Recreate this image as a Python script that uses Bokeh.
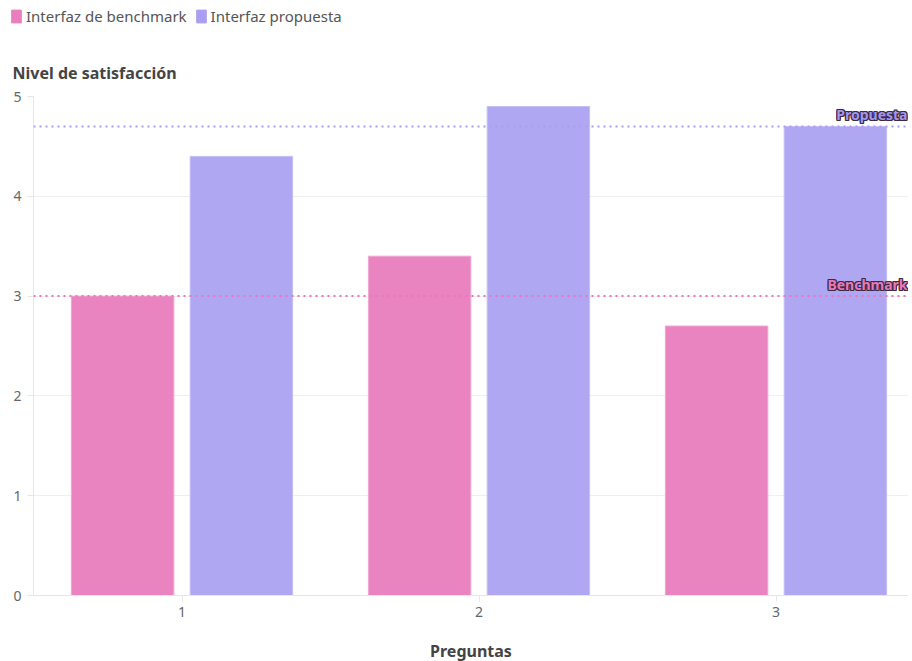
from bokeh.plotting import figure
from bokeh.layouts import column
from bokeh.models import ColumnDataSource, Legend, LegendItem, Span, Label, FixedTicker, Range1d, Title
from bokeh.embed import file_html
from bokeh.resources import INLINE

preguntas = [1, 2, 3]
benchmark = [3.0, 3.4, 2.7]
propuesta = [4.4, 4.9, 4.7]
ref_labels = ["Benchmark", "Propuesta"]
ref_values = [3.0, 4.7]
series_names = ["Interfaz de benchmark", "Interfaz propuesta"]

PINK = "#EA84C1"
PURPLE = "#B0A7F3"
PINK_LINE = "#E879B9"
PURPLE_LINE = "#A99DF0"
FONT = "Noto Sans"

dodge = 0.2
bar_w = 0.345

src = ColumnDataSource(dict(
    xb=[x - dodge for x in preguntas], yb=benchmark,
    xp=[x + dodge for x in preguntas], yp=propuesta,
))

LEFT = 33
FW, FH = 875, 499
LEG_H = 32
x_end = 0.5 + FW / 297

# ---- legend strip ----
pl = figure(width=LEFT + FW, height=LEG_H, output_backend="svg", toolbar_location=None,
            x_axis_location=None, y_axis_location=None,
            x_range=Range1d(0, 1), y_range=Range1d(0, 1), frame_align=False,
            min_border_left=4, min_border_right=0, min_border_top=0, min_border_bottom=0)
pl.outline_line_color = None
pl.xgrid.grid_line_color = None
pl.ygrid.grid_line_color = None
# off-screen swatch renderers used only for the legend glyphs
lb = pl.vbar(x=[-10], top=[-9], bottom=[-10], width=1, fill_color="#E97DBE", line_color="#E97DBE")
lp = pl.vbar(x=[-10], top=[-9], bottom=[-10], width=1, fill_color="#A99EF1", line_color="#A99EF1")
legend = Legend(items=[LegendItem(label=series_names[0], renderers=[lb]),
                       LegendItem(label=series_names[1], renderers=[lp])],
                orientation="horizontal", location="top_left",
                label_text_font=FONT, label_text_font_size="15px",
                label_text_color="#555555", glyph_width=12, glyph_height=16,
                label_standoff=4, spacing=8, padding=0, margin=6,
                label_height=18,
                border_line_color=None, background_fill_alpha=0)
pl.add_layout(legend, "center")

# ---- main chart ----
p = figure(frame_width=FW, frame_height=FH, output_backend="svg", toolbar_location=None,
           x_range=Range1d(0.5, x_end), y_range=Range1d(0, 5), frame_align=False,
           min_border_left=LEFT, min_border_right=0, min_border_top=96 - LEG_H,
           min_border_bottom=4, title=None)
p.outline_line_color = None
p.background_fill_color = "white"

rb = p.vbar(x="xb", top="yb", width=bar_w, source=src, fill_color=PINK,
            line_color="#F0A6D2", line_width=1)
rp = p.vbar(x="xp", top="yp", width=bar_w, source=src, fill_color=PURPLE,
            line_color="#C4BEF6", line_width=1)

for val, col, lab in zip(ref_values, [PINK_LINE, "#A296F0"], ref_labels):
    p.add_layout(Span(location=val, dimension="width",
                      line_color=PINK_LINE if lab == "Benchmark" else PURPLE_LINE,
                      line_dash="dotted", line_width=2))
    for dx, dy in [(-1, 0), (1, 0), (0, -1), (0, 1), (-1, -1), (1, 1), (-1, 1), (1, -1)]:
        p.add_layout(Label(x=x_end, y=val, text=lab, text_align="right",
                           text_baseline="bottom", y_offset=2 + dy, x_offset=-1 + dx,
                           text_font=FONT, text_font_size="14px", text_font_style="bold",
                           text_color="#3a2a45"))
    p.add_layout(Label(x=x_end, y=val, text=lab, text_align="right",
                       text_baseline="bottom", y_offset=2, x_offset=-1,
                       text_font=FONT, text_font_size="14px", text_font_style="bold",
                       text_color=col))

# axes
p.xaxis.ticker = FixedTicker(ticks=preguntas)
p.yaxis.ticker = FixedTicker(ticks=[0, 1, 2, 3, 4, 5])
for ax in (p.xaxis[0], p.yaxis[0]):
    ax.axis_line_color = "#E6E6E6"
    ax.major_tick_line_color = "#E6E6E6"
    ax.major_tick_out = 6
    ax.major_tick_in = 0
    ax.minor_tick_line_color = None
    ax.major_label_text_font = FONT
    ax.major_label_text_font_size = "14px"
    ax.major_label_text_color = "#666666"
p.xaxis.axis_label = "Preguntas"
p.xaxis.axis_label_text_font = FONT
p.xaxis.axis_label_text_font_size = "16px"
p.xaxis.axis_label_text_font_style = "bold"
p.xaxis.axis_label_text_color = "#444444"
p.xaxis.axis_label_standoff = 20
p.xaxis.major_label_standoff = 5
p.yaxis.major_label_standoff = 6

p.xgrid.grid_line_color = None
p.ygrid.grid_line_color = "#EFEFEF"

title = Title(text="Nivel de satisfacción", text_font=FONT, text_font_size="16px",
              text_font_style="bold", text_color="#444444", align="left",
              offset=-21, standoff=25)
p.add_layout(title, "above")

layout = column(pl, p, spacing=0)
open("out.html", "w").write(file_html(layout, INLINE))
